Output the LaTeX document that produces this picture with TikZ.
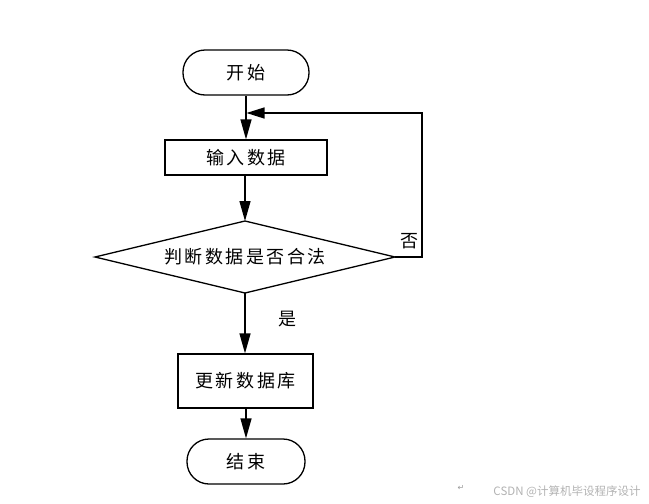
\documentclass[tikz,border=0pt]{standalone}
\usepackage{fontspec}
\setmainfont{Noto Sans CJK SC}
\newfontfamily\symfont{DejaVu Sans}
\usetikzlibrary{arrows.meta}
\begin{document}
\begin{tikzpicture}[x=1pt,y=-1pt,
  every node/.style={font=\fontsize{18}{20}\selectfont\addfontfeature{LetterSpace=14}},
  box/.style={draw,line width=1.3pt,inner sep=0pt},
  term/.style={box,rounded corners=22pt,minimum height=45pt},
  proc/.style={box},
  dec/.style={draw,line width=1.3pt},
  conn/.style={line width=1.3pt,-{Triangle[length=20pt,width=11pt]}},
  lbl/.style={inner sep=0pt}]
\useasboundingbox (0,0) rectangle (649,504);
\node[term,minimum width=126pt] (start) at (246,72.5) {开始};
\node[proc,minimum width=162pt,minimum height=35pt] (input) at (246,157.5) {输入数据};
\coordinate (dl) at (95,257);
\coordinate (dr) at (395,257);
\coordinate (dt) at (245,221);
\coordinate (db) at (245,293);
\draw[dec] (dl) -- (dt) -- (dr) -- (db) -- cycle;
\node[lbl] (dectext) at (245,257) {判断数据是否合法};
\node[proc,minimum width=135pt,minimum height=54pt] (update) at (245.5,381) {更新数据库};
\node[term,minimum width=118pt] (end) at (246,461.5) {结束};
\coordinate (rt) at (422,113);
\coordinate (join) at (246.5,113);
\draw[conn] (start.south) -- (input.north);
\draw[conn] (input.south -| dt) -- (dt);
\draw[conn] (db) -- (update.north -| db);
\draw[conn] (update.south -| end.south) -- (end.north);
\draw[line width=1.3pt,-{Triangle[length=18pt,width=11pt]}] (dr) -| (rt) -- (join);
\node[lbl] (no) at (409,241) {否};
\node[lbl] (yes) at (287,319) {是};
\node[lbl,font=\fontsize{11.5}{13}\selectfont,text=black!30] (wm) at (567,492) {CSDN @计算机毕设程序设计};
\node[lbl,font=\symfont\fontsize{8}{10}\selectfont,text=black!40] (ret) at (461,488) {↵};
\end{tikzpicture}
\end{document}
